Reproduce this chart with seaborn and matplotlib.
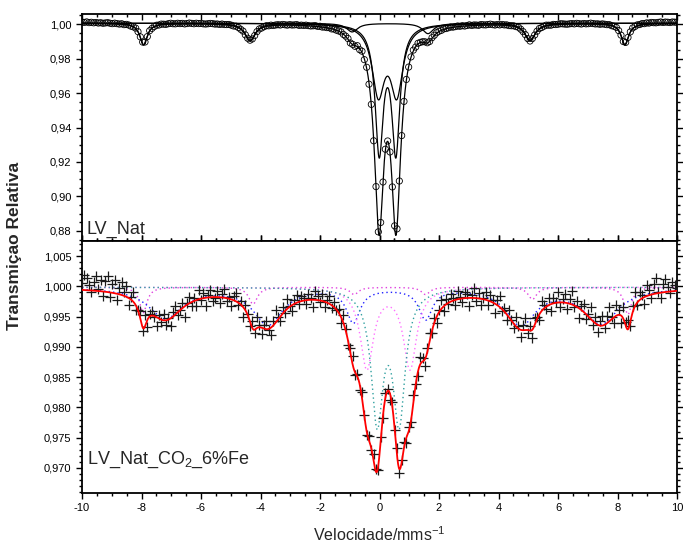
import numpy as np
import pandas as pd
import matplotlib
matplotlib.use("Agg")
import matplotlib.pyplot as plt
import seaborn as sns
from matplotlib.ticker import MultipleLocator, FuncFormatter

# ---------------- data ----------------
# upper spectrum (LV_Nat): fitted sub-spectra, Lorentzian lines
top_baseline = 1.0005
top_sext_pos = [-7.93, -4.35, -0.92, 1.63, 5.06, 8.25]
top_sext_depth = [0.0125, 0.0100, 0.0050, 0.0060, 0.0100, 0.0125]
top_sext_fwhm = [0.30, 0.42, 0.45, 0.45, 0.42, 0.30]
top_dA_pos = [-0.04, 0.58]
top_dA_depth = [0.039, 0.039]
top_dA_fwhm = [0.50, 0.50]
top_dB_pos = [-0.01, 0.55]
top_dB_depth = [0.0725, 0.0725]
top_dB_fwhm = [0.33, 0.33]
# measured points: deviation from the fit (units of 1e-4)
top_resid = [
    8, 6, 9, 5, 7, 4, 6, 3, 5, 2, 4, 6, 3, 1, 4, 2, 0, 3, -1, 2, 1, -2, 0, 3, 1, 4, 12, 6, -3, 2, -1, 1,
    3, 1, 4, 2, 0, 3, 5, 2, 1, 4, 2, 3, 0, 2, 5, 3, 1, 4, 2, 3, 1, 0, 2, 4, 3, 1, 2, 0, 3, 1, 2, 4,
    2, 0, 3, 1, -1, 2, 0, 4, 6, 2, -2, 1, 3, 0, 2, 4, 1, 3, 0, 2, 3, 1, 4, 2, 0, 3, 1, 2, 4, 0, 2, 1,
    3, 1, 0, 2, 4, 1, 3, 0, 2, 1, 3, -1, 2, 0, 1, 3, -2, 1, 4, -3, 2, -4, 5, -6, 8, -5, 6, -8, 5, -6, 8, -5,
    6, -4, 8, 2, 6, -5, 8, -6, 5, -4, 3, 6, -3, 2, 5, -2, 4, 1, 3, 6, 2, 0, 4, 1, 3, 2, 0, 3, 1, 2, 4, 1,
    2, 4, 1, 3, 0, 2, 5, 1, 3, 2, 0, 4, 2, 1, 3, 5, 2, 0, 3, 1, 4, 2, 3, 0, 1, 3, 2, 4, 1, 0, 2, 3,
    1, 3, 0, 2, 4, 1, 3, 5, 2, 0, 3, 1, 2, 4, 3, 1, 0, 2, 3, 1, 4, 2, 0, 3, 1, 2, 5, 3, 1, 2, 0, 3,
    2, 1, 3, 0, 2, 4, 1, 3, 6, 12, 4, 2, 5, 3, 6, 4, 7, 5, 8, 6, 9, 7, 6, 8, 10, 7, 9, 8, 6, 9, 8, 7,
]

# lower spectrum (LV_Nat_CO2_6%Fe)
bot_baseline = 0.99985
bot_s1_pos = [-7.94, -4.25, -0.85, 1.55, 5.14, 8.35]       # sharp sextet (magenta)
bot_s1_depth = [0.0042, 0.0028, 0.0012, 0.0012, 0.0020, 0.0045]
bot_s1_fwhm = [0.30, 0.35, 0.35, 0.35, 0.35, 0.30]
bot_s2_pos = [-7.20, -3.75, -0.88, 1.55, 4.75, 7.45]       # broad sextet (blue)
bot_s2_depth = [0.0050, 0.0060, 0.0055, 0.0050, 0.0060, 0.0058]
bot_s2_fwhm = [1.40, 1.20, 0.55, 0.55, 1.20, 1.40]
bot_d1_pos = [-0.425, 1.025]                                # wide doublet (pink)
bot_d1_depth = [0.01325, 0.01325]
bot_d1_fwhm = [0.54, 0.54]
bot_d2_pos = [-0.08, 0.66]                                  # narrow doublet (teal)
bot_d2_depth = [0.0214, 0.0214]
bot_d2_fwhm = [0.487, 0.487]
bot_resid = [
    12, 25, 20, 8, -2, 15, 25, 4, 19, -8, 18, 26, -7, 14, 22, -10, 11, 22, 6, 17, -12, 5, 16, -9, 1, 13, -6, 19, -11, 4, 8, -2,
    -15, 6, -3, 10, -8, 2, -12, 7, 14, -5, 0, 9, -18, 3, 11, -7, 5, -10, 16, -2, 8, -14, 4, 12, -6, -1, 10, -9, 6, 15, -4, 2,
    -11, 7, 13, -3, 5, -16, 9, 1, -8, 12, -5, 18, 3, -10, 6, 14, -2, -13, 8, 20, 4, -7, 11, -4, 16, 2, -9, 7, 12, -3, 9, 5,
    -6, 10, 3, -12, 15, 7, -2, 11, -8, 4, 13, -5, 9, -1, 6, -10, 12, 3, -7, 8, 14, -4, 5, -9, 10, 2, -6, 7, -3, 11, 4, -8,
    6, -5, 9, 3, -11, 8, -2, 12, -6, 4, 10, -9, 7, -3, 14, 1, -8, 11, 5, -12, 6, 13, -4, 8, -10, 3, 15, -7, 9, -2, 12, 5,
    -9, 14, 3, -6, 11, 7, -13, 5, 16, -4, 9, -11, 2, 13, -7, 10, 4, -15, 8, 18, -3, 6, -10, 12, 1, -8, 15, 5, -12, 9, 20, -5,
    7, -14, 11, 3, -9, 16, 6, -4, 12, -11, 9, 2, 18, -7, 5, 14, -10, 8, 22, -3, 10, -16, 6, 13, -8, 4, 19, -6, 11, -12, 7, 15,
    -5, 12, 24, 3, -9, 17, 8, -13, 20, 5, 15, -7, 10, 23, -4, 14, 6, -11, 18, 9, -6, 16, 25, 2, -8, 13, 21, 7, -3, 15, 10, 4,
]

x_ticks = [-10, -8, -6, -4, -2, 0, 2, 4, 6, 8, 10]
top_yticks = [0.88, 0.90, 0.92, 0.94, 0.96, 0.98, 1.00]
bot_yticks = [0.970, 0.975, 0.980, 0.985, 0.990, 0.995, 1.000, 1.005]
label_top = "LV_Nat"
label_bot = "LV_Nat_CO$_2$_6%Fe"
xlabel = "Velocidade/mms$^{-1}$"
ylabel = "Transmiçao Relativa"

# ---------------- model helpers ----------------
def absorption(x, pos, depth, fwhm):
    a = np.zeros_like(x)
    for p, d, w in zip(pos, depth, fwhm):
        a += d / (1.0 + ((x - p) / (w / 2.0)) ** 2)
    return a

xf = np.linspace(-10, 10, 1601)
xch = np.linspace(-10, 10, len(top_resid))
xchb = np.linspace(-10, 10, len(bot_resid))

def top_parts(x):
    s = absorption(x, top_sext_pos, top_sext_depth, top_sext_fwhm)
    a = absorption(x, top_dA_pos, top_dA_depth, top_dA_fwhm)
    b = absorption(x, top_dB_pos, top_dB_depth, top_dB_fwhm)
    return s, a, b

def bot_parts(x):
    return (absorption(x, bot_s1_pos, bot_s1_depth, bot_s1_fwhm),
            absorption(x, bot_s2_pos, bot_s2_depth, bot_s2_fwhm),
            absorption(x, bot_d1_pos, bot_d1_depth, bot_d1_fwhm),
            absorption(x, bot_d2_pos, bot_d2_depth, bot_d2_fwhm))

# ---------------- figure ----------------
sns.set_style("white")
plt.rcParams["font.family"] = ["Liberation Sans", "DejaVu Sans"]
plt.rcParams["mathtext.fontset"] = "custom"
plt.rcParams["mathtext.rm"] = "Liberation Sans"
plt.rcParams["mathtext.it"] = "Liberation Sans:italic"

W, H = 683, 548
fig = plt.figure(figsize=(W / 100, H / 100), dpi=100)
L, R = 82, 677
ax1 = fig.add_axes([L / W, 1 - 241 / H, (R - L) / W, 227 / H])
ax2 = fig.add_axes([L / W, 1 - 493 / H, (R - L) / W, 252 / H])

# top panel
s, a, b = top_parts(xf)
total = top_baseline - s - a - b
for yy in (top_baseline - s, top_baseline - a, top_baseline - b, total):
    sns.lineplot(x=xf, y=yy, ax=ax1, color="black", lw=0.9, estimator=None, sort=False)
sc, ac, bc = top_parts(xch)
ydat = top_baseline - sc - ac - bc + np.array(top_resid) * 1e-4
ax1.scatter(xch, ydat, s=20, facecolors="none", edgecolors="black", linewidths=0.6, zorder=3)

# bottom panel
p1, p2, p3, p4 = bot_parts(xf)
btotal = bot_baseline - p1 - p2 - p3 - p4
dot = (0, (1, 2.2))
sns.lineplot(x=xf, y=bot_baseline - p1, ax=ax2, color="#e040e0", lw=1.0, linestyle=dot, estimator=None, sort=False)
sns.lineplot(x=xf, y=bot_baseline - p2, ax=ax2, color="#2020ff", lw=1.0, linestyle=dot, estimator=None, sort=False)
sns.lineplot(x=xf, y=bot_baseline - p3, ax=ax2, color="#ff70ff", lw=1.0, linestyle=dot, estimator=None, sort=False)
sns.lineplot(x=xf, y=bot_baseline - p4, ax=ax2, color="#30a0a0", lw=1.0, linestyle=dot, estimator=None, sort=False)
q1, q2, q3, q4 = bot_parts(xchb)
bdat = bot_baseline - q1 - q2 - q3 - q4 + np.array(bot_resid) * 1e-4
sns.scatterplot(x=xchb, y=bdat, ax=ax2, marker="+", s=55, color="#1a1a1a", linewidth=0.9, zorder=3)
sns.lineplot(x=xf, y=btotal, ax=ax2, color="red", lw=1.3, estimator=None, sort=False, zorder=4)

# axes styling
for ax in (ax1, ax2):
    ax.set_xlim(-10, 10)
    ax.set_xticks(x_ticks)
    ax.xaxis.set_minor_locator(MultipleLocator(0.5))
    for sp in ax.spines.values():
        sp.set_linewidth(1.3)
        sp.set_color("black")
    ax.tick_params(which="both", labelsize=8, colors="black", width=1.0)
    ax.tick_params(which="major", length=4)
    ax.tick_params(which="minor", length=2.5)
    ax.xaxis.set_ticks_position("both")
    ax.yaxis.set_ticks_position("both")
    ax.tick_params(axis="x", which="both", direction="in")
    ax.yaxis.set_tick_params(which="both", direction="out")
    ax.tick_params(axis="y", which="both", right=True, left=True, labelleft=True, labelright=False)
    ax.set_xlabel("")
    ax.set_ylabel("")
ax2.xaxis.set_tick_params(which="both", direction="out")
ax2.tick_params(axis="x", labelbottom=True, labeltop=False)

ax1.set_ylim(0.8742, 1.0058)
ax1.set_yticks(top_yticks)
ax1.yaxis.set_minor_locator(MultipleLocator(0.005))
ax1.yaxis.set_major_formatter(FuncFormatter(lambda v, p: f"{v:.2f}".replace(".", ",")))
ax1.tick_params(axis="x", labelbottom=False, labeltop=False)

ax2.set_ylim(0.96587, 1.00748)
ax2.set_yticks(bot_yticks)
ax2.yaxis.set_minor_locator(MultipleLocator(0.001))
ax2.yaxis.set_major_formatter(FuncFormatter(lambda v, p: f"{v:.3f}".replace(".", ",")))
ax2.xaxis.set_major_formatter(FuncFormatter(lambda v, p: f"{v:.0f}"))

ax1.text(0.008, 0.012, label_top, transform=ax1.transAxes, fontsize=13, ha="left", va="bottom")
ax2.text(0.008, 0.09, label_bot, transform=ax2.transAxes, fontsize=13, ha="left", va="bottom")

fig.text(15 / W, 1 - 246 / H, ylabel, rotation=90, fontsize=12.5, fontweight="bold",
         ha="center", va="center")
fig.text(379 / W, 1 - 535 / H, xlabel, fontsize=11.5, ha="center", va="center")

fig.savefig("out.png", dpi=100)
